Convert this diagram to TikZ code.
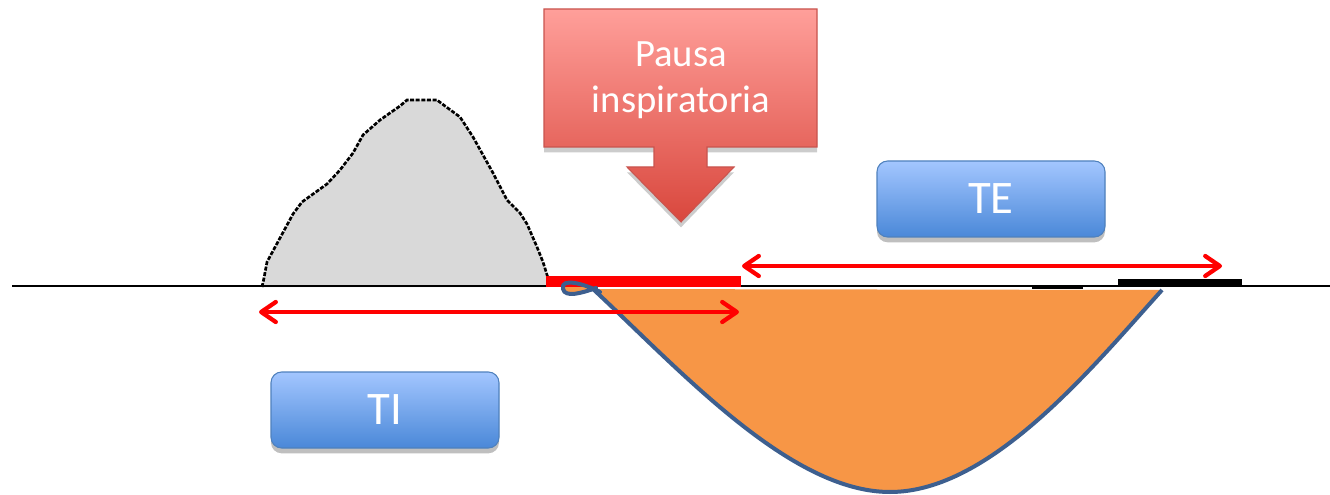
\documentclass[tikz,border=0pt]{standalone}
\usepackage{fontspec}
\setmainfont{Carlito}
\usetikzlibrary{arrows.meta,shadows}
\definecolor{humpgray}{HTML}{D9D9D9}
\definecolor{orangefill}{HTML}{F79646}
\definecolor{curveblue}{HTML}{3D5F8F}
\definecolor{boxtop}{HTML}{A3C6FF}
\definecolor{boxbot}{HTML}{4A88D8}
\definecolor{boxedge}{HTML}{4F81BD}
\definecolor{pausatop}{HTML}{FF9F9A}
\definecolor{pausabot}{HTML}{D9473D}
\definecolor{pausaedge}{HTML}{C9544E}
\definecolor{arrred}{HTML}{FF0000}
\tikzset{
  hump/.style={black, line width=2pt, dash pattern=on 3pt off 1.2pt},
  redarrow/.style={arrred, line width=3.2pt, line cap=round,
    {Straight Barb[length=11pt,width=15pt,round]}-{Straight Barb[length=11pt,width=15pt,round]}},
  bluebox/.style={rounded corners=8pt, draw=boxedge, line width=0.8pt,
    top color=boxtop, bottom color=boxbot, text=white,
    minimum width=171pt, minimum height=57pt, inner sep=0pt,
    font=\fontsize{35}{40}\selectfont,
    drop shadow={shadow xshift=0pt, shadow yshift=-4pt, opacity=0.25, fill=black}},
  pausashape/.style={draw=pausaedge, line width=0.8pt, top color=pausatop, bottom color=pausabot,
    drop shadow={shadow xshift=0pt, shadow yshift=-4pt, opacity=0.2, fill=black}},
  pausatext/.style={text=white, align=center, font=\fontsize{29}{34.5}\selectfont, inner sep=0pt}
}
\begin{document}
\begin{tikzpicture}[x=0.75pt,y=-0.75pt]
\useasboundingbox (0,0) rectangle (1330,495);
\fill[white] (0,0) rectangle (1330,495);

% gray hump
\fill[humpgray] (262,287) -- (264,278) -- (267,262) -- (280,238) -- (293,214) -- (302,202) -- (327,184) -- (340,170) -- (353,153) -- (363,135) -- (380,120) -- (400,106) -- (407,100) -- (437,100) -- (445,106) -- (460,117) -- (473,137) -- (483,155) -- (493,173) -- (507,200) -- (520,213) -- (527,224) -- (537,247) -- (543,262) -- (548,276) -- (548,287) -- cycle;
\draw[hump] (262,287) -- (264,278) -- (267,262) -- (280,238) -- (293,214) -- (302,202) -- (327,184) -- (340,170) -- (353,153) -- (363,135) -- (380,120) -- (400,106) -- (407,100) -- (437,100) -- (445,106) -- (460,117) -- (473,137) -- (483,155) -- (493,173) -- (507,200) -- (520,213) -- (527,224) -- (537,247) -- (543,262) -- (548,278);

% orange area
\fill[orangefill] (593,289) .. controls (680,370) and (790,492) .. (890,492) .. controls (990,492) and (1090,370) .. (1162,290) -- cycle;
\fill[orangefill] (596,289) .. controls (575,282) and (560,278) .. (563,289) .. controls (565,298) and (580,294) .. (596,289);

% baseline
\draw[black, line width=2pt] (12,286) -- (1330,286);
\fill[black] (1118,279) rectangle (1242,287);
\fill[black] (1032,286) rectangle (1083,289);

% red bar (inspiratory pause)
\fill[arrred] (546,276) rectangle (741,287);

% blue curve
\draw[curveblue, line width=3pt, line join=round, line cap=round]
  (600,292) .. controls (585,284) and (560,277) .. (563,289) .. controls (565,298) and (582,293) .. (596,288);
\draw[curveblue, line width=3pt, line join=round]
  (593,289) .. controls (680,370) and (790,492) .. (890,492) .. controls (990,492) and (1090,370) .. (1162,290);

% arrows
\coordinate (teL) at (742,266);
\coordinate (teR) at (1222,266);
\coordinate (tiL) at (259,312);
\coordinate (tiR) at (739,312);
\draw[redarrow] (teL) -- (teR);
\draw[redarrow] (tiL) -- (tiR);

% Pausa inspiratoria callout
\path[pausashape] (544,9) -- (817,9) -- (817,147) -- (707,147) -- (707,167) -- (734,167) -- (681,222) -- (627,167) -- (654,167) -- (654,147) -- (544,147) -- cycle;
\node[pausatext] (pausa) at (681,80) {Pausa\\inspiratoria};

% boxes
\node[bluebox] (te) at (991,199) {TE};
\node[bluebox] (ti) at (385,410) {TI};
\end{tikzpicture}
\end{document}
